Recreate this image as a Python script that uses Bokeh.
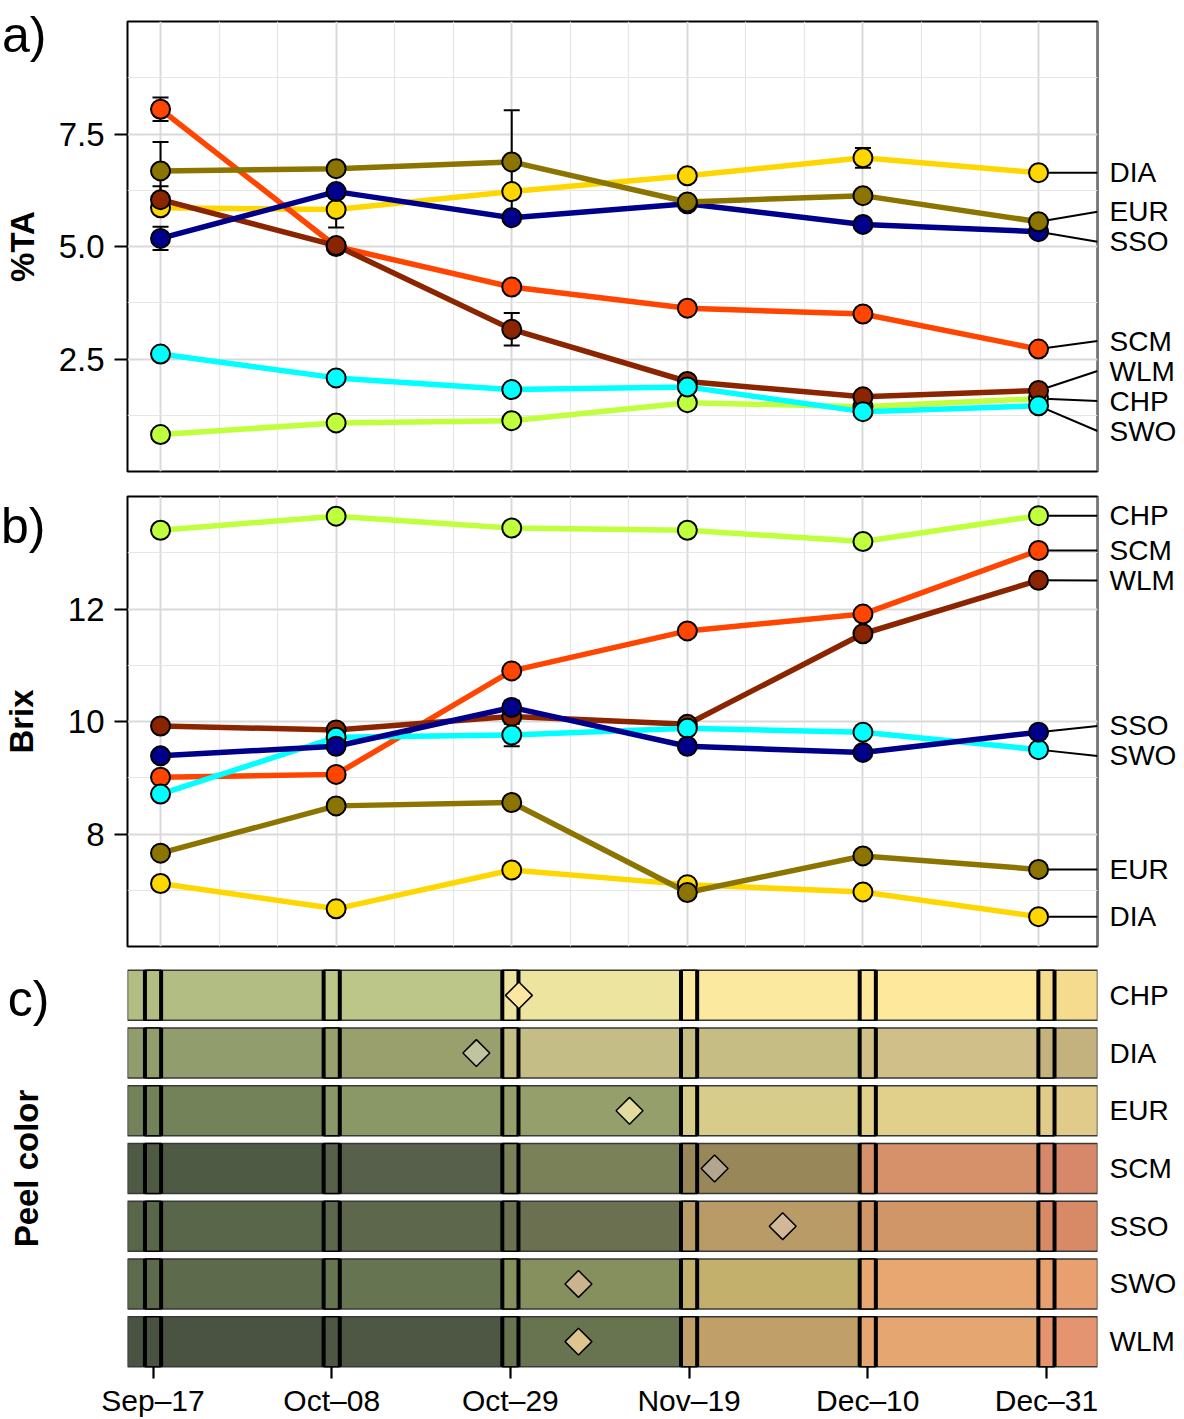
import numpy as np
from bokeh.plotting import figure
from bokeh.layouts import column
from bokeh.models import FixedTicker, Range1d, LinearAxis, PrintfTickFormatter
from bokeh.embed import file_html
from bokeh.resources import INLINE

FONT = "Liberation Sans"

# ---------------- data ----------------
days = [0, 21, 42, 63, 84, 105]
date_labels = ["Sep–17", "Oct–08", "Oct–29", "Nov–19", "Dec–10", "Dec–31"]
cultivars = ["CHP", "DIA", "EUR", "SCM", "SSO", "SWO", "WLM"]

# a) titratable acidity (%TA), mean and standard error
ta_chp = [0.82, 1.08, 1.13, 1.53, 1.44, 1.62]
ta_dia = [5.86, 5.82, 6.22, 6.57, 6.97, 6.64]
ta_eur = [6.68, 6.73, 6.88, 5.99, 6.13, 5.55]
ta_scm = [8.05, 5.00, 4.10, 3.63, 3.50, 2.72]
ta_sso = [5.18, 6.22, 5.64, 5.95, 5.49, 5.33]
ta_swo = [2.61, 2.08, 1.82, 1.88, 1.33, 1.46]
ta_wlm = [6.04, 5.02, 3.16, 2.00, 1.66, 1.80]

ta_se_chp = [0.05, 0.05, 0.05, 0.05, 0.05, 0.05]
ta_se_dia = [0.10, 0.40, 0.10, 0.08, 0.22, 0.06]
ta_se_eur = [0.64, 0.08, 1.15, 0.08, 0.08, 0.06]
ta_se_scm = [0.26, 0.08, 0.08, 0.06, 0.06, 0.06]
ta_se_sso = [0.26, 0.10, 0.08, 0.08, 0.06, 0.06]
ta_se_swo = [0.06, 0.06, 0.06, 0.06, 0.06, 0.06]
ta_se_wlm = [0.30, 0.08, 0.36, 0.10, 0.06, 0.06]

# b) soluble solids (Brix), mean and standard error
bx_chp = [13.40, 13.65, 13.44, 13.40, 13.20, 13.66]
bx_dia = [7.12, 6.67, 7.36, 7.10, 6.97, 6.53]
bx_eur = [7.66, 8.50, 8.56, 6.96, 7.61, 7.37]
bx_scm = [9.01, 9.06, 10.90, 11.61, 11.91, 13.04]
bx_sso = [9.39, 9.56, 10.25, 9.56, 9.45, 9.81]
bx_swo = [8.71, 9.72, 9.76, 9.88, 9.81, 9.50]
bx_wlm = [9.92, 9.85, 10.09, 9.95, 11.56, 12.51]

bx_se_chp = [0.05, 0.05, 0.05, 0.05, 0.05, 0.05]
bx_se_dia = [0.05, 0.05, 0.05, 0.05, 0.05, 0.05]
bx_se_eur = [0.05, 0.08, 0.05, 0.05, 0.05, 0.05]
bx_se_scm = [0.05, 0.05, 0.08, 0.05, 0.05, 0.05]
bx_se_sso = [0.06, 0.06, 0.12, 0.05, 0.05, 0.05]
bx_se_swo = [0.05, 0.05, 0.20, 0.05, 0.05, 0.05]
bx_se_wlm = [0.05, 0.10, 0.05, 0.05, 0.05, 0.05]

# c) peel colour at each sampling date, and colour-break day
peel_chp = ["#b1bd82", "#bcc689", "#ede4a0", "#fbe9a0", "#fde89c", "#f5db8e"]
peel_dia = ["#919d6d", "#99a06d", "#c5bd86", "#c6bd85", "#d0bf89", "#c3b27e"]
peel_eur = ["#748259", "#8a9868", "#949f6b", "#d8cc8a", "#e1d08c", "#e0cb8a"]
peel_scm = ["#4f5a45", "#57604a", "#7a8058", "#988859", "#d6906a", "#d8886a"]
peel_sso = ["#5a664a", "#5c674b", "#6b7150", "#b89b67", "#d09668", "#d88a66"]
peel_swo = ["#5d6b4c", "#667452", "#868f5e", "#c4b06d", "#e8a771", "#e8a070"]
peel_wlm = ["#4a5342", "#4e5644", "#687450", "#c0a068", "#e6a672", "#e49570"]
break_day = [43, 38, 56, 66, 74, 50, 50]
break_color = ["#fbe6a2", "#c2c4a0", "#e4dba0", "#b2a68e", "#d0b898", "#c9b48e", "#ddc590"]

# ---------------- assembly ----------------
ta = dict(zip(cultivars, [ta_chp, ta_dia, ta_eur, ta_scm, ta_sso, ta_swo, ta_wlm]))
ta_se = dict(zip(cultivars, [ta_se_chp, ta_se_dia, ta_se_eur, ta_se_scm, ta_se_sso, ta_se_swo, ta_se_wlm]))
bx = dict(zip(cultivars, [bx_chp, bx_dia, bx_eur, bx_scm, bx_sso, bx_swo, bx_wlm]))
bx_se = dict(zip(cultivars, [bx_se_chp, bx_se_dia, bx_se_eur, bx_se_scm, bx_se_sso, bx_se_swo, bx_se_wlm]))
peel = dict(zip(cultivars, [peel_chp, peel_dia, peel_eur, peel_scm, peel_sso, peel_swo, peel_wlm]))

colors = {"CHP": "#c0ff3e", "DIA": "#ffd700", "EUR": "#8b7500", "SCM": "#ff4500",
          "SSO": "#00008b", "SWO": "#00ffff", "WLM": "#8b2500"}
draw_order = ["CHP", "DIA", "SCM", "WLM", "SWO", "SSO", "EUR"]

FW = 970
FH = 450
BL, BR = 127, 87
XA0, XA1 = -3.95, 112.05
XC0, XC1 = -3.0, 111.0
minor_days = [7, 14, 28, 35, 49, 56, 70, 77, 91, 98, 112]
TAG_SIZE = 50


def spread(vals, sep):
    order = sorted(range(len(vals)), key=lambda i: vals[i])
    clusters = [[i] for i in order]

    def pos(cl):
        c = sum(vals[i] for i in cl) / len(cl)
        n = len(cl)
        return [c + (k - (n - 1) / 2) * sep for k in range(n)]

    changed = True
    while changed:
        changed = False
        for j in range(len(clusters) - 1):
            a = pos(clusters[j])
            b = pos(clusters[j + 1])
            if b[0] - a[-1] < sep - 1e-9:
                clusters[j] = clusters[j] + clusters[j + 1]
                del clusters[j + 1]
                changed = True
                break
    out = [0.0] * len(vals)
    for cl in clusters:
        for i, p in zip(cl, pos(cl)):
            out[i] = p
    return out


def label_axis(ticks, names, size, standoff):
    ax = LinearAxis(ticker=FixedTicker(ticks=list(ticks)))
    ax.major_label_overrides = {t: n for t, n in zip(ticks, names)}
    ax.major_label_text_font = FONT
    ax.major_label_text_font_size = size
    ax.major_label_text_color = "black"
    ax.major_label_standoff = standoff
    ax.major_tick_out = 0
    ax.major_tick_in = 0
    ax.minor_tick_out = 0
    ax.minor_tick_in = 0
    ax.major_tick_line_color = None
    ax.minor_tick_line_color = None
    ax.axis_line_color = None
    return ax


def tag_axis(tick, tag, ylabel, label_standoff, name_standoff):
    ax = label_axis([tick], [tag], f"{TAG_SIZE}px", label_standoff)
    ax.axis_label = ylabel
    ax.axis_label_text_font = FONT
    ax.axis_label_text_font_size = "33px"
    ax.axis_label_text_font_style = "bold"
    ax.axis_label_text_color = "black"
    ax.axis_label_standoff = name_standoff
    return ax


def line_panel(vals, ses, y0, y1, yticks, yminor, ylabel, fmt, btop, bbot,
               tag, tag_off, tag_std, name_std):
    p = figure(frame_width=FW, frame_height=FH, x_range=Range1d(XA0, XA1),
               y_range=Range1d(y0, y1), min_border_left=BL, min_border_right=BR,
               min_border_top=btop, min_border_bottom=bbot, toolbar_location=None,
               output_backend="svg", background_fill_color="white",
               border_fill_color="white")
    p.outline_line_color = "black"
    p.outline_line_width = 2
    p.xaxis.visible = False
    p.xaxis.ticker = FixedTicker(ticks=days, minor_ticks=minor_days)
    p.xgrid.ticker = FixedTicker(ticks=days, minor_ticks=minor_days)
    p.ygrid.ticker = FixedTicker(ticks=yticks, minor_ticks=yminor)
    for g in (p.xgrid, p.ygrid):
        g.grid_line_color = "#d9d9d9"
        g.grid_line_width = 2
        g.minor_grid_line_color = "#e6e6e6"
        g.minor_grid_line_width = 1.2
    ax = p.yaxis[0]
    ax.ticker = FixedTicker(ticks=yticks)
    ax.formatter = PrintfTickFormatter(format=fmt)
    ax.major_tick_out = 13
    ax.major_tick_in = 0
    ax.minor_tick_out = 0
    ax.minor_tick_in = 0
    ax.major_tick_line_width = 2
    ax.major_tick_line_color = "black"
    ax.axis_line_color = None
    ax.major_label_text_font = FONT
    ax.major_label_text_font_size = "33px"
    ax.major_label_text_color = "black"
    ax.major_label_standoff = 10

    pyu = FH / (y1 - y0)

    # panel tag and axis title on an outer left axis
    p.add_layout(tag_axis(y1 - tag_off / pyu, tag, ylabel, tag_std, name_std), "left")

    # lines
    for c in draw_order:
        p.line(days, vals[c], line_color=colors[c], line_width=5.5, line_join="round")

    # leader lines and right-hand labels
    ends = [vals[c][-1] for c in cultivars]
    lab_y = spread(ends, 30.0 / pyu)
    p.segment(x0=[days[-1]] * len(cultivars), y0=ends, x1=[XA1] * len(cultivars), y1=lab_y,
              line_color="black", line_width=2)
    p.add_layout(label_axis(lab_y, cultivars, "28px", 12), "right")

    # error bars
    for c in draw_order:
        lo = [v - s for v, s in zip(vals[c], ses[c])]
        hi = [v + s for v, s in zip(vals[c], ses[c])]
        p.segment(x0=days, y0=lo, x1=days, y1=hi, line_color="black", line_width=2)
        p.scatter(x=days + days, y=lo + hi, marker="dash", size=16,
                  line_color="black", line_width=2)

    # points
    for c in draw_order:
        p.scatter(x=days, y=vals[c], size=19, fill_color=colors[c],
                  line_color="black", line_width=2)
    return p


pa = line_panel(ta, ta_se, 0, 10, [2.5, 5.0, 7.5], [1.25, 3.75, 6.25, 8.75],
                "%TA", "%.1f", 21, 12, "a)", 0.6, 9, -42)
pb = line_panel(bx, bx_se, 6, 14, [8, 10, 12], [7, 9, 11, 13],
                "Brix", "%d", 13, 10, "b)", 0.8, 19, -42)

# ---------------- c) peel colour ----------------
FHC = 404
NR = len(cultivars)
row_h = 0.866
row_pos = [NR - 1 - i + 0.5 for i in range(NR)]  # first cultivar on top
pc = figure(frame_width=FW, frame_height=FHC, x_range=Range1d(XC0, XC1),
            y_range=Range1d(0, NR), y_axis_location=None,
            min_border_left=BL, min_border_right=BR, min_border_top=10,
            min_border_bottom=0, toolbar_location=None, output_backend="svg",
            background_fill_color="white", border_fill_color="white")
pc.outline_line_color = None
pc.xgrid.grid_line_color = None
pc.ygrid.grid_line_color = None

half = 0.95
seg_y, seg_l, seg_r, seg_c = [], [], [], []
box_y, box_l, box_r, box_c = [], [], [], []
edge_x, edge_y0, edge_y1 = [], [], []
for c, k in zip(cultivars, row_pos):
    for i, d in enumerate(days):
        seg_y.append(k)
        seg_l.append(XC0 if i == 0 else d - half)
        seg_r.append(days[i + 1] - half if i < len(days) - 1 else XC1)
        seg_c.append(peel[c][i])
        box_y.append(k)
        box_l.append(d - half)
        box_r.append(d + half)
        box_c.append(peel[c][i])
        for ex in (d - half, d + half):
            edge_x.append(ex)
            edge_y0.append(k - row_h / 2)
            edge_y1.append(k + row_h / 2)

pc.hbar(y=seg_y, left=seg_l, right=seg_r, height=row_h, fill_color=seg_c, line_color=None)
pc.hbar(y=row_pos, left=XC0, right=XC1, height=row_h, fill_color=None,
        line_color="#3a3a3a", line_width=1.5)
pc.hbar(y=box_y, left=box_l, right=box_r, height=row_h, fill_color=box_c,
        line_color="black", line_width=1.5)
pc.segment(x0=edge_x, y0=edge_y0, x1=edge_x, y1=edge_y1, line_color="black", line_width=4)
pc.scatter(x=break_day, y=row_pos, marker="square", angle=np.pi / 4, size=19,
           fill_color=break_color, line_color="black", line_width=1.5)

xa = pc.xaxis[0]
xa.ticker = FixedTicker(ticks=days)
xa.major_label_overrides = {d: l for d, l in zip(days, date_labels)}
xa.major_label_text_font = FONT
xa.major_label_text_font_size = "30px"
xa.major_label_text_color = "black"
xa.major_tick_out = 8
xa.major_tick_in = 4
xa.major_tick_line_width = 2.2
xa.major_tick_line_color = "black"
xa.minor_tick_out = 0
xa.minor_tick_in = 0
xa.axis_line_color = None
xa.major_label_standoff = 5

pyc = FHC / NR
pc.add_layout(tag_axis(NR - 4 / pyc, "c)", "Peel color", 78, -40), "left")
pc.add_layout(label_axis(row_pos, cultivars, "28px", 12), "right")

layout = column(pa, pb, pc, spacing=0)
with open("out.html", "w") as f:
    f.write(file_html(layout, INLINE, title="Fruit maturity"))
